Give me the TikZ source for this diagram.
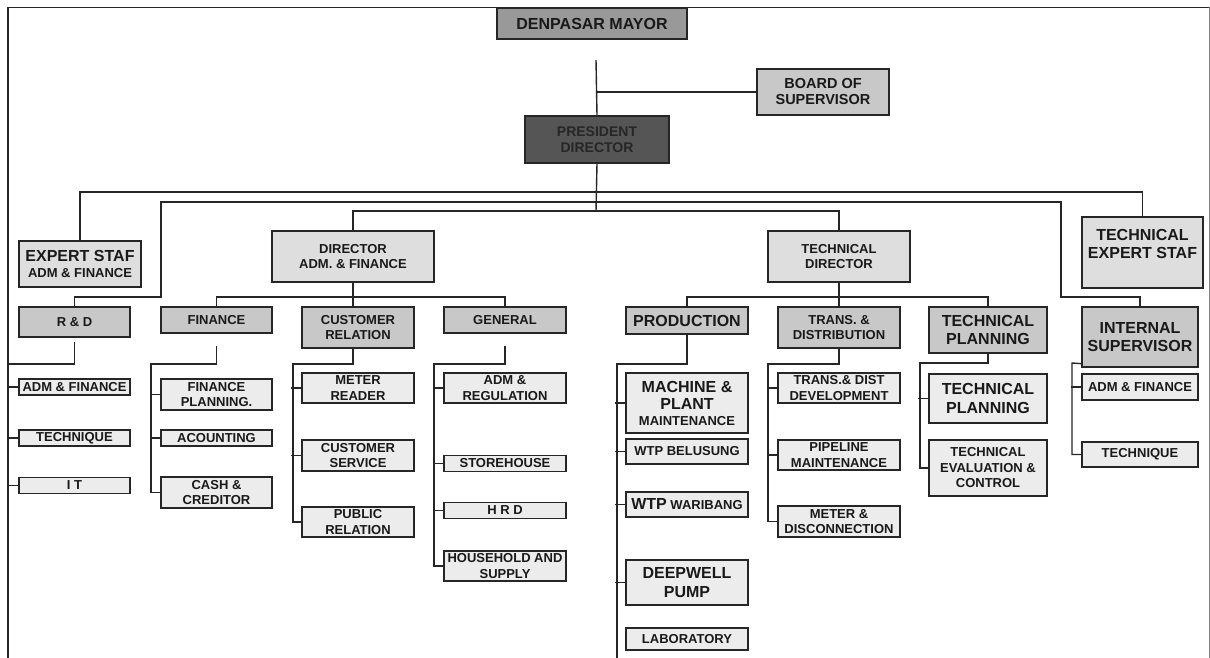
\documentclass[tikz,border=0pt]{standalone}
\usepackage{fontspec}
\setmainfont{Liberation Sans}
\definecolor{mayorGray}{RGB}{153,153,153}
\definecolor{presGray}{RGB}{85,85,85}
\definecolor{headGray}{RGB}{200,200,200}
\definecolor{dirGray}{RGB}{222,222,222}
\definecolor{leafGray}{RGB}{236,236,236}
\newcommand{\bigtxt}{\fontsize{16}{18}\selectfont}
\tikzset{
  orgbox/.style={draw=black!85, line width=1.3, inner sep=1, align=center, text=black!90,
    font=\fontsize{13}{15.5}\selectfont\bfseries},
  sz/.style 2 args={minimum width=#1, minimum height=#2},
  leafbox/.style={orgbox, fill=leafGray},
  headbox/.style={orgbox, fill=headGray},
  dirbox/.style={orgbox, fill=dirGray},
  conn/.style={line width=1.4, black!85},
}

\begin{document}
\begin{tikzpicture}[x=1pt, y=-1pt]
    \useasboundingbox (0,0) rectangle (1210,658);
    % frame
    \draw[conn] (8,658) -- (8,7.5) -- (1209,7.5);
    \draw[gray, line width=0.8] (1209,7.5) -- (1209,658);

    % top of the tree
    \node[orgbox, fill=mayorGray, sz={190}{31}, font=\fontsize{16}{18}\selectfont\bfseries] (mayor) at (592,23.5) {DENPASAR MAYOR};
    \node[headbox, sz={132}{46}, font=\fontsize{14.5}{16}\selectfont\bfseries] (board) at (823,92) {BOARD OF\\SUPERVISOR};
    \node[orgbox, fill=presGray, text=black!85, sz={144}{47}, font=\fontsize{14}{16}\selectfont\bfseries] (pres) at (597,139.5) {PRESIDENT\\DIRECTOR};
    \coordinate (top) at (596,60);
    \draw[conn] (top) -- (pres.north);
    \draw[conn] (top |- board.west) -- (board.west);

    % second level
    \node[dirbox, sz={122}{46}] (expert) at (80,264) {\bigtxt EXPERT STAF\\ADM \& FINANCE};
    \node[dirbox, sz={121}{71}] (tes) at (1142.5,252.5) {\bigtxt TECHNICAL\\[2pt]\bigtxt EXPERT STAF\\[2pt]\mbox{}};
    \node[dirbox, sz={162}{51}] (dadm) at (353,256.5) {DIRECTOR\\ADM. \& FINANCE};
    \node[dirbox, sz={142}{51}] (tdir) at (839,256.5) {TECHNICAL\\DIRECTOR};
    \node[headbox, sz={111}{30}] (rd) at (74.5,322) {R \& D};
    \node[headbox, sz={116}{60}] (isup) at (1140,337) {\bigtxt INTERNAL\\[3pt]\bigtxt SUPERVISOR};

    \coordinate (b1) at (596,192);
    \coordinate (b2) at (596,202);
    \coordinate (b3) at (596,211);
    \coordinate (lk) at (161,297);
    \coordinate (rk) at (1061,297);
    \draw[conn] (pres.south) -- (b3);
    \draw[conn] (expert.north) |- (b1) -| (tes.north);
    \draw[conn] (rd.north) |- (lk) |- (b2) -| (rk) -| (isup.north);
    \draw[conn] (dadm.north) |- (b3) -| (tdir.north);

    % adm & finance departments
    \node[headbox, sz={111}{26}] (fin) at (216.5,320) {FINANCE};
    \node[headbox, sz={112}{41}] (crel) at (358,327.5) {CUSTOMER\\RELATION};
    \node[headbox, sz={122}{26}] (gen) at (505,320) {GENERAL};
    \coordinate (d1) at (353,297);
    \draw[conn] (dadm.south) -- (dadm.south |- crel.north);
    \draw[conn] (fin.north) |- (d1) -| (gen.north);

    % technical departments
    \node[headbox, sz={122}{27}] (prod) at (687,320.5) {\bigtxt PRODUCTION};
    \node[headbox, sz={122}{41}] (trans) at (839,327.5) {TRANS. \&\\DISTRIBUTION};
    \node[headbox, sz={118}{46}] (tplan) at (988,330) {\bigtxt TECHNICAL\\[2pt]\bigtxt PLANNING};
    \coordinate (t1) at (838,297);
    \draw[conn] (tdir.south) -- (trans.north);
    \draw[conn] (prod.north) |- (t1) -| (tplan.north);

    % R & D units
    \node[leafbox, sz={111}{16}] (rd1) at (74.5,387) {ADM \& FINANCE};
    \node[leafbox, sz={111}{16}] (rd2) at (74.5,438) {TECHNIQUE};
    \node[leafbox, sz={111}{16}] (rd3) at (74.5,485.5) {I T};
    \coordinate (rdR) at (8,364);
    \draw[conn] ([yshift=-4]rd.south) |- (rdR) |- (rd3.west);

    % finance units
    \node[leafbox, sz={111}{31}] (fin1) at (216.5,394.5) {FINANCE\\PLANNING.};
    \node[leafbox, sz={111}{16}] (fin2) at (216.5,438) {ACOUNTING};
    \node[leafbox, sz={111}{31}] (fin3) at (216.5,492.5) {CASH \&\\CREDITOR};
    \coordinate (finR) at (151,364);
    \draw[conn] ([yshift=-12]fin.south) |- (finR) |- (fin3.west);

    % customer relation units
    \node[leafbox, sz={112}{30}] (cr1) at (358,388) {METER\\READER};
    \node[leafbox, sz={112}{31}] (cr2) at (358,455.5) {CUSTOMER\\SERVICE};
    \node[leafbox, sz={112}{30}] (cr3) at (358,522) {PUBLIC\\RELATION};
    \coordinate (crR) at (293,364);
    \draw[conn] (dadm.south |- crel.south) |- (crR) |- (cr3.west);

    % general units
    \node[leafbox, sz={122}{30}] (gen1) at (505,388) {ADM \&\\REGULATION};
    \node[leafbox, sz={122}{16}] (gen2) at (505,463.5) {STOREHOUSE};
    \node[leafbox, sz={122}{16}] (gen3) at (505,510.5) {H R D};
    \node[leafbox, sz={122}{30}] (gen4) at (505,566) {HOUSEHOLD AND\\SUPPLY};
    \coordinate (genR) at (434,364);
    \draw[conn] ([yshift=-12]gen.south) |- (genR) |- (gen4.west);

    % production units
    \node[leafbox, sz={122}{60}] (pr1) at (687,403) {\bigtxt MACHINE \&\\[2pt]\bigtxt PLANT\\MAINTENANCE};
    \node[leafbox, sz={122}{25}] (pr2) at (687,451.5) {WTP BELUSUNG};
    \node[leafbox, sz={122}{25}] (pr3) at (687,504.5) {{\bigtxt WTP} WARIBANG};
    \node[leafbox, sz={122}{45}] (pr4) at (687,582.5) {\bigtxt DEEPWELL\\[3pt]\bigtxt PUMP};
    \node[leafbox, sz={122}{22}] (pr5) at (687,639) {LABORATORY};
    \coordinate (prR) at (617,364);
    \coordinate (prEnd) at (617,658);
    \draw[conn] (prod.south) |- (prR) -- (prEnd);

    % transmission & distribution units
    \node[leafbox, sz={122}{30}] (tr1) at (839,388) {TRANS.\& DIST\\DEVELOPMENT};
    \node[leafbox, sz={122}{30}] (tr2) at (839,455) {PIPELINE\\MAINTENANCE};
    \node[leafbox, sz={122}{31}] (tr3) at (839,521.5) {METER \&\\DISCONNECTION};
    \coordinate (trR) at (768,364);
    \draw[conn] (trans.south) |- (trR) |- (tr3.west);

    % technical planning units
    \node[leafbox, sz={118}{49}] (tp1) at (988,398.5) {\bigtxt TECHNICAL\\[3pt]\bigtxt PLANNING};
    \node[leafbox, sz={118}{56}] (tp2) at (988,468) {TECHNICAL\\EVALUATION \&\\CONTROL};
    \coordinate (tpR) at (920,363);
    \draw[conn] (tplan.south) |- (tpR) |- (tp2.west);

    % internal supervisor units
    \node[leafbox, sz={116}{26}] (is1) at (1140,387) {ADM \& FINANCE};
    \node[leafbox, sz={116}{25}] (is2) at (1140,454.5) {TECHNIQUE};
    \coordinate (isR) at (1072,363);
    \draw[conn] ([yshift=4]isup.south west) -- (isR) |- (is2.west);

    % ticks to the units
    \foreach \u in {rd1,rd2,fin1,fin2,cr1,cr2,gen1,gen2,gen3,pr1,pr2,pr3,pr4,tr1,tr2,tp1,is1}
      \draw[conn] (\u.west) -- ++(-10,0);
  \end{tikzpicture}
\end{document}
